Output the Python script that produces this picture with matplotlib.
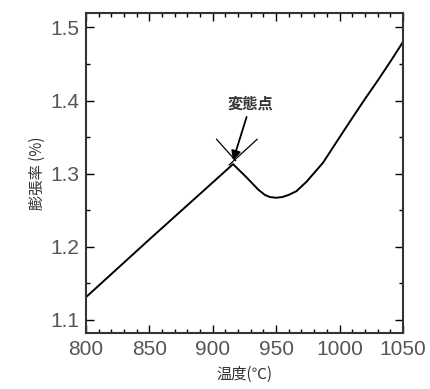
import matplotlib.pyplot as plt
from matplotlib.ticker import MultipleLocator

plt.rcParams['font.family'] = ['Liberation Sans', 'Noto Sans CJK JP', 'DejaVu Sans']

# 膨張率曲線 (読み取り値)
temp = [800, 850, 900, 916, 926, 936, 941, 945, 950, 955, 960, 966, 974,
        987, 999, 1010, 1020, 1030, 1040, 1050]
expansion = [1.131, 1.210, 1.288, 1.313, 1.296, 1.278, 1.271, 1.268, 1.267,
             1.268, 1.271, 1.276, 1.289, 1.315, 1.347, 1.376, 1.402, 1.427,
             1.453, 1.480]

# 変態点付近の接線 (X字)
cross_a_x = [903, 918]
cross_a_y = [1.347, 1.318]
cross_b_x = [935, 913]
cross_b_y = [1.347, 1.312]

fig = plt.figure(figsize=(4.3, 3.89), dpi=100)
ax = fig.add_axes([0.2, 0.144, 0.737, 0.823])

ax.plot(temp, expansion, color='black', linewidth=1.4)
ax.plot(cross_a_x, cross_a_y, color='black', linewidth=0.9)
ax.plot(cross_b_x, cross_b_y, color='black', linewidth=0.9)

ax.annotate('変態点', xy=(916, 1.318), xytext=(930, 1.385),
            ha='center', va='bottom', fontsize=11, color='#333333',
            fontweight='bold', family=['Noto Sans CJK JP', 'DejaVu Sans'],
            arrowprops=dict(arrowstyle='-|>', color='black', lw=1.3,
                            mutation_scale=14, shrinkA=2, shrinkB=0))

ax.set_xlim(800, 1050)
ax.set_ylim(1.082, 1.52)
ax.xaxis.set_major_locator(MultipleLocator(50))
ax.xaxis.set_minor_locator(MultipleLocator(10))
ax.yaxis.set_major_locator(MultipleLocator(0.1))
ax.yaxis.set_minor_locator(MultipleLocator(0.05))
ax.tick_params(which='both', direction='in', top=True, right=True,
               labelsize=15, labelcolor='#555555', width=1.0)
ax.tick_params(which='major', length=6, pad=5)
ax.tick_params(which='minor', length=3)
ax.set_yticks([1.1, 1.2, 1.3, 1.4, 1.5])
ax.set_yticklabels(['1.1', '1.2', '1.3', '1.4', '1.5'])
for s in ax.spines.values():
    s.set_linewidth(1.5)
    s.set_color('#333333')

ax.set_xlabel('温度(℃)', fontsize=11, color='#333333',
              family=['Noto Sans CJK JP', 'DejaVu Sans'], labelpad=5)
ax.set_ylabel('膨張率 (%)', fontsize=11, color='#333333',
              family=['Noto Sans CJK JP', 'DejaVu Sans'], labelpad=3)

fig.savefig('out.png', dpi=100)
